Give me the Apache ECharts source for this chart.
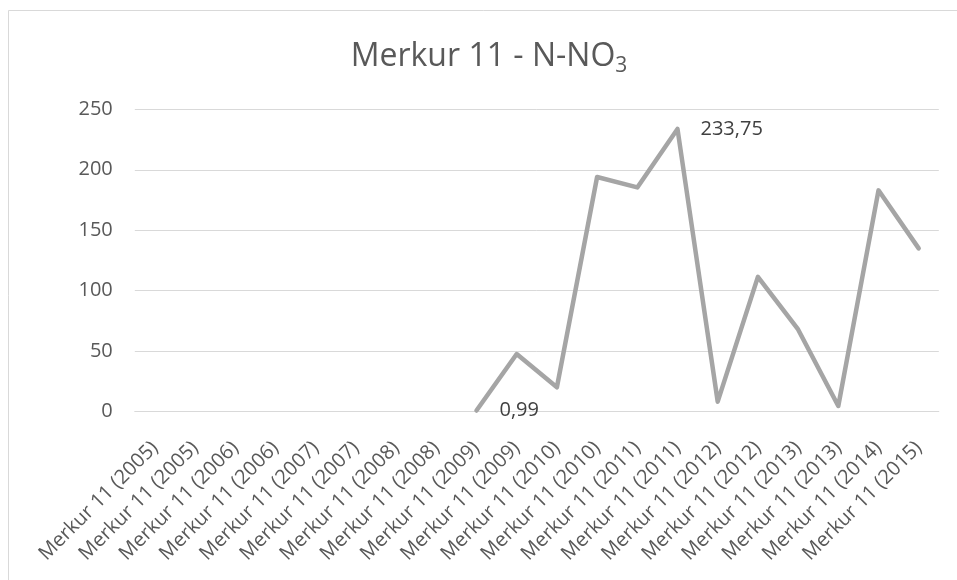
<!DOCTYPE html>
<html>
<head>
<meta charset="utf-8">
<script src="https://cdn.jsdelivr.net/npm/echarts@6/dist/echarts.min.js"></script>
<style>
html,body{margin:0;padding:0;background:#fff;}
#chart{width:957px;height:580px;}
</style>
</head>
<body>
<div id="chart"></div>
<script>
const categories = [
  "Merkur 11 (2005)", "Merkur 11 (2005)", "Merkur 11 (2006)", "Merkur 11 (2006)",
  "Merkur 11 (2007)", "Merkur 11 (2007)", "Merkur 11 (2008)", "Merkur 11 (2008)",
  "Merkur 11 (2009)", "Merkur 11 (2009)", "Merkur 11 (2010)", "Merkur 11 (2010)",
  "Merkur 11 (2011)", "Merkur 11 (2011)", "Merkur 11 (2012)", "Merkur 11 (2012)",
  "Merkur 11 (2013)", "Merkur 11 (2013)", "Merkur 11 (2014)", "Merkur 11 (2015)"
];
const values = [null, null, null, null, null, null, null, null,
  0.99, 47.7, 20.2, 194, 185.4, 233.75, 8.3, 111.5, 68, 4.7, 183, 135];
const labelledIndices = [8, 13];
const yTicks = { min: 0, max: 250, interval: 50 };
const titleMain = "Merkur 11 - N-NO";
const titleSub = "3";

const FONT = "'Open Sans', 'Liberation Sans', sans-serif";
const chart = echarts.init(document.getElementById('chart'), null, { renderer: 'canvas' });

const seriesData = values.map((v, i) => {
  if (labelledIndices.indexOf(i) >= 0) {
    return {
      value: v,
      symbol: 'circle',
      symbolSize: 2,
      itemStyle: { color: 'rgba(0,0,0,0)', borderWidth: 0 },
      label: {
        show: true, position: 'right', distance: 22,
        formatter: p => String(p.value).replace('.', ','),
        color: '#404040', fontSize: 20, fontFamily: FONT
      }
    };
  }
  return { value: v, symbol: 'none' };
});

chart.setOption({
  animation: false,
  backgroundColor: '#ffffff',
  grid: { left: 134.8, right: 18.2, top: 109.3, bottom: 168.3, containLabel: false },
  graphic: [
    {
      type: 'rect', silent: true,
      shape: { x: 8.5, y: 10.5, width: 1000, height: 1000 },
      style: { fill: 'none', stroke: '#d9d9d9', lineWidth: 1 }
    },
    {
      type: 'text', x: 489, y: 37,
      style: {
        text: '{a|' + titleMain + '}{b|' + titleSub + '}',
        fill: '#595959',
        align: 'center', verticalAlign: 'top',
        textAlign: 'center', textVerticalAlign: 'top',
        rich: {
          a: { fontSize: 32, lineHeight: 40, fill: '#595959', color: '#595959', fontFamily: FONT, verticalAlign: 'middle' },
          b: { fontSize: 21, lineHeight: 18, fill: '#595959', color: '#595959', fontFamily: FONT, verticalAlign: 'bottom' }
        }
      }
    }
  ],
  xAxis: {
    type: 'category',
    data: categories,
    boundaryGap: true,
    axisTick: { show: false },
    axisLine: { show: true, lineStyle: { color: '#d9d9d9', width: 1 } },
    axisLabel: {
      interval: 0, rotate: 45, margin: 33,
      color: '#595959', fontSize: 20, fontFamily: FONT
    },
    splitLine: { show: false }
  },
  yAxis: {
    type: 'value',
    min: yTicks.min, max: yTicks.max, interval: yTicks.interval,
    axisLine: { show: false },
    axisTick: { show: false },
    axisLabel: { margin: 22, color: '#595959', fontSize: 20, fontFamily: FONT },
    splitLine: { show: true, lineStyle: { color: '#d9d9d9', width: 1 } }
  },
  series: [{
    type: 'line',
    data: seriesData,
    showSymbol: true,
    connectNulls: false,
    lineStyle: { color: '#a5a5a5', width: 4.5, cap: 'round', join: 'round' },
    itemStyle: { color: '#a5a5a5' }
  }]
});
</script>
</body>
</html>
